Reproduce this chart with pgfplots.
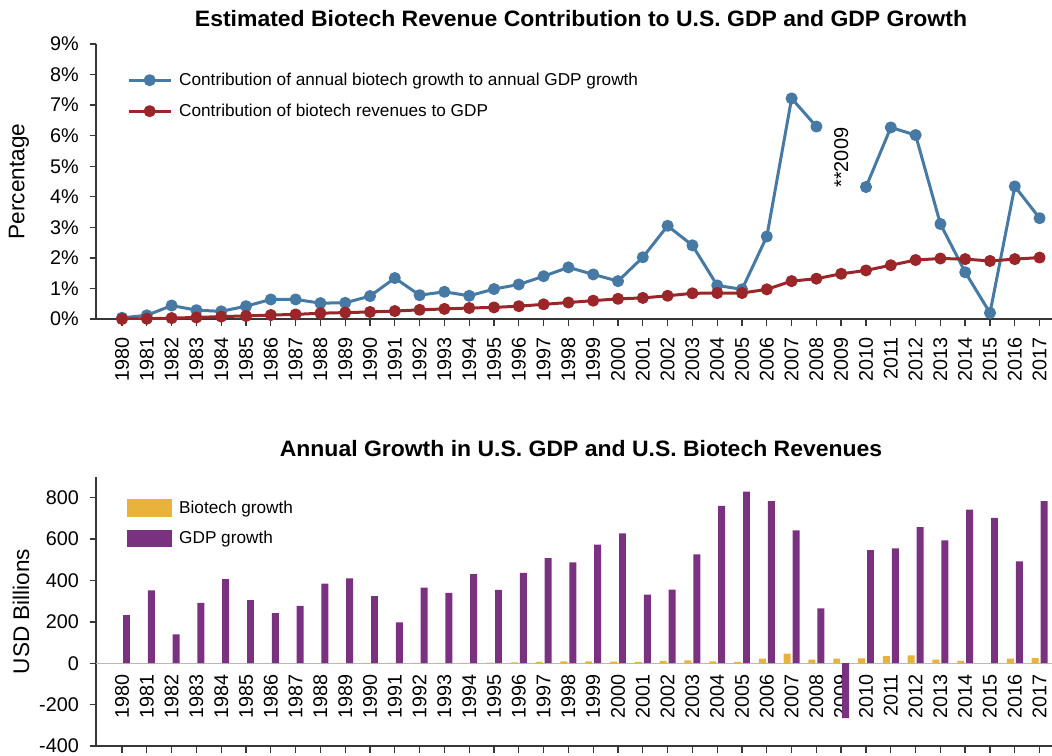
\documentclass[border=0pt]{standalone}
\usepackage{pgfplots}
\usepackage{pgfplotstable}
\pgfplotsset{compat=1.18}
\usepackage{fontspec}
\setmainfont{Liberation Sans}
\definecolor{cblue}{RGB}{70,121,163}
\definecolor{cred}{RGB}{155,38,42}
\definecolor{cpurple}{RGB}{122,50,128}
\definecolor{cyellow}{RGB}{233,178,58}
\definecolor{axgray}{RGB}{55,55,55}

\pgfplotstableread{
year blue red
1980 0.04 0.00
1981 0.12 0.01
1982 0.44 0.03
1983 0.29 0.05
1984 0.25 0.08
1985 0.42 0.10
1986 0.64 0.13
1987 0.64 0.15
1988 0.52 0.19
1989 0.53 0.21
1990 0.75 0.23
1991 1.34 0.26
1992 0.78 0.30
1993 0.89 0.33
1994 0.76 0.36
1995 0.98 0.38
1996 1.13 0.42
1997 1.40 0.48
1998 1.69 0.54
1999 1.46 0.60
2000 1.24 0.66
2001 2.02 0.69
2002 3.05 0.76
2003 2.41 0.84
2004 1.10 0.85
2005 0.97 0.85
2006 2.70 0.97
2007 7.22 1.24
2008 6.30 1.32
2009 nan 1.48
2010 4.32 1.59
2011 6.27 1.76
2012 6.02 1.93
2013 3.11 1.98
2014 1.53 1.96
2015 0.20 1.90
2016 4.34 1.96
2017 3.30 2.01
}\topdata

\pgfplotstableread{
year bio gdp
1980 0 232
1981 0 352
1982 0 139
1983 0 292
1984 0 406
1985 0 305
1986 0 242
1987 0 277
1988 0 385
1989 2 410
1990 2 324
1991 2 197
1992 2 365
1993 2 340
1994 2 431
1995 3 355
1996 4 437
1997 7 508
1998 9 487
1999 9 573
2000 8 627
2001 7 332
2002 11 356
2003 14 526
2004 9 760
2005 7 829
2006 22 784
2007 46 642
2008 18 265
2009 22 -265
2010 24 547
2011 34 555
2012 38 658
2013 18 594
2014 11 742
2015 1 702
2016 22 492
2017 25 784
}\botdata

\begin{document}
\begin{tikzpicture}
\pgfplotsset{
  common/.style={
    scale only axis, width=956pt,
    xmin=1978.95, xmax=2017.5,
    axis x line*=bottom, axis y line*=left,
    axis line style={draw=axgray, line width=1.6pt},
    tick style={draw=axgray, line width=1.3pt},
    tick align=outside,
    major tick length=6.5pt,
    xtick={1980,...,2017},
    /pgf/number format/1000 sep={},
    /pgf/number format/assume math mode=true,
    tick label style={font=\fontsize{19.8}{22}\selectfont, text=black},
    xticklabel style={rotate=90, anchor=east, inner sep=0pt},
    yticklabel style={anchor=east, inner sep=0pt},
    label style={font=\fontsize{22.6}{26}\selectfont},
    legend cell align=left,
    legend style={draw=none, fill=none, font=\fontsize{17.2}{20}\selectfont,
      anchor=north west, at={(rel axis cs:0,1)}, inner sep=0pt,
      nodes={inner sep=1pt}},
  }
}
\begin{axis}[common, at={(96pt,-319pt)}, anchor=south west, height=275pt,
  ymin=0, ymax=9, ytick={0,1,...,9},
  yticklabels={0\%,1\%,2\%,3\%,4\%,5\%,6\%,7\%,8\%,9\%},
  xticklabel shift=11.5pt, yticklabel shift=10.5pt,
  ylabel={Percentage},
  ylabel style={at={(rel axis cs:0,0.5)}, anchor=center, yshift=77pt},
  unbounded coords=jump,
  legend style={xshift=31pt, yshift=-28pt, row sep=15pt, column sep=6pt},
  legend image code/.code={\draw[#1,mark repeat=2,mark phase=2] plot coordinates {(0pt,0pt)(21pt,0pt)(42pt,0pt)};},
]
\addplot[cblue, line width=3pt, line join=round, mark=*, mark size=4.5pt, mark options={solid}] table[x=year,y=blue]{\topdata};
\addlegendentry{Contribution of annual biotech growth to annual GDP growth}
\addplot[cred, line width=3pt, line join=round, mark=*, mark size=4.5pt, mark options={solid}] table[x=year,y=red]{\topdata};
\addlegendentry{Contribution of biotech revenues to GDP}
\node[rotate=90, font=\fontsize{20}{22}\selectfont] at (axis cs:2009,5.28) {**2009};
\end{axis}

\begin{axis}[common, at={(96pt,-746pt)}, anchor=south west, height=269pt,
  ymin=-400, ymax=900, ytick={-400,-200,0,200,400,600,800},
  xticklabel shift=-78.5pt, yticklabel shift=10.5pt,
  ylabel={USD Billions},
  ylabel style={at={(rel axis cs:0,0.5)}, anchor=center, yshift=75pt},
  extra y ticks={0}, extra y tick labels={},
  extra y tick style={grid=major, major grid style={draw=gray!55, line width=1.3pt}},
  legend style={xshift=31pt, yshift=-22pt, row sep=13pt, column sep=6pt},
]
\addplot[ybar, bar width=0.28, bar shift=-0.18, fill=cyellow, draw=none,
  legend image code/.code={\fill[cyellow] (0pt,-8.7pt) rectangle (45pt,8.7pt);}] table[x=year,y=bio]{\botdata};
\addlegendentry{Biotech growth}
\addplot[ybar, bar width=0.28, bar shift=0.18, fill=cpurple, draw=none,
  legend image code/.code={\fill[cpurple] (0pt,-8.7pt) rectangle (45pt,8.7pt);}] table[x=year,y=gdp]{\botdata};
\addlegendentry{GDP growth}
\end{axis}

\node[anchor=base, font={\fontsize{22.3}{26}\selectfont\bfseries}] at (581pt,-26pt)
  {\scalebox{1.03}[1]{Estimated Biotech Revenue Contribution to U.S. GDP and GDP Growth}};
\node[anchor=base, font={\fontsize{22.3}{26}\selectfont\bfseries}] at (581pt,-456pt)
  {\scalebox{1.03}[1]{Annual Growth in U.S. GDP and U.S. Biotech Revenues}};
\pgfresetboundingbox
\path (0pt,0pt) rectangle (1052pt,-755pt);
\end{tikzpicture}
\end{document}
